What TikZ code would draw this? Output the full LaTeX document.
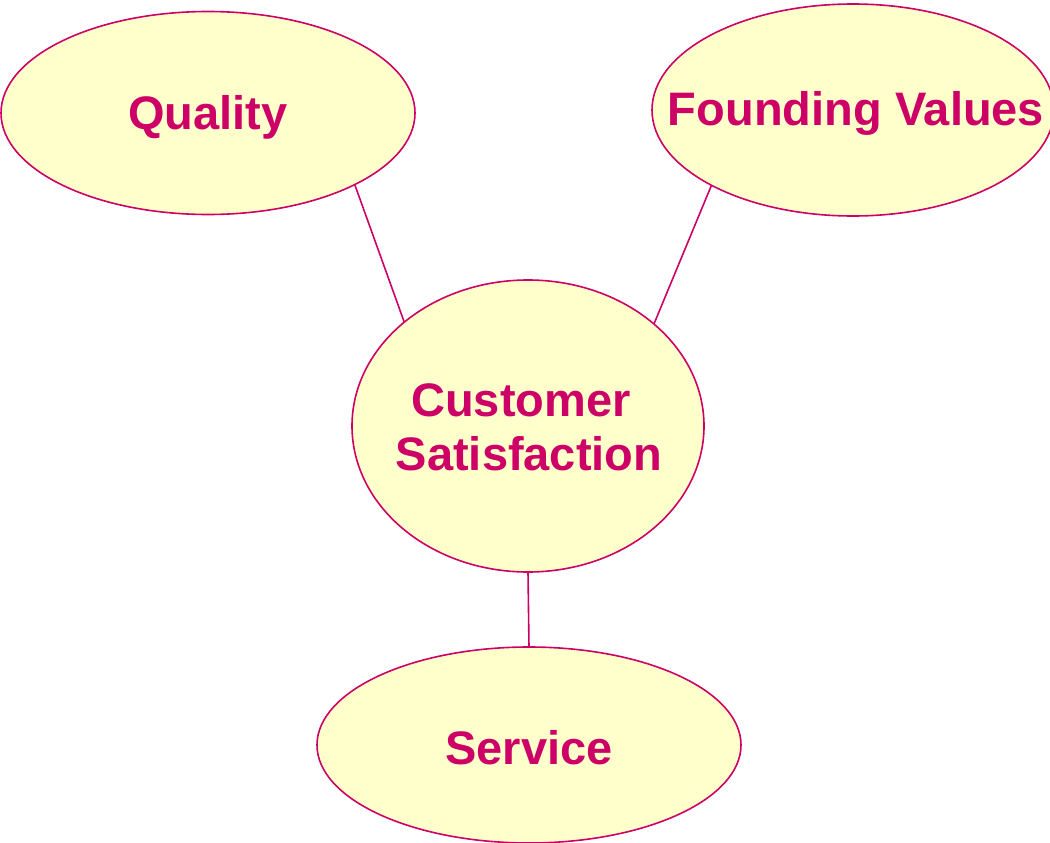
\documentclass[tikz,border=0pt]{standalone}
\usepackage{fontspec}
\setmainfont{Liberation Sans}
\usetikzlibrary{shapes.geometric}
\definecolor{fillY}{HTML}{FFFFCC}
\definecolor{mag}{HTML}{CC0066}
\begin{document}
\begin{tikzpicture}[x=1pt,y=-1pt,
  bubble/.style={ellipse, draw=mag, fill=fillY, line width=1.6pt, inner sep=0pt, outer sep=0pt},
  caption/.style={text=mag, font=\fontsize{47}{54}\selectfont\bfseries, align=center, inner sep=0pt},
  link/.style={draw=mag, line width=1.6pt}]
\useasboundingbox (0,0) rectangle (1050,843);
\node[bubble, minimum width=414pt, minimum height=203pt] (q) at (208,113) {};
\node[bubble, minimum width=402pt, minimum height=212pt] (f) at (853,110) {};
\node[bubble, minimum width=352pt, minimum height=292pt] (c) at (528,426) {};
\node[bubble, minimum width=424pt, minimum height=196pt] (s) at (529,745) {};
\node[caption] (qt) at (208,117) {Quality};
\node[caption] (ft) at (856,113) {Founding Values};
\node[caption] (ct) at (529,427) {Customer\hspace*{16pt}\\Satisfaction};
\node[caption] (st) at (529,748) {Service};
\draw[link] (q.-26.7) -- (c.140.2);
\draw[link] (f.208.3) -- (c.39.8);
\draw[link] (c.-90) -- (s.90);
\end{tikzpicture}
\end{document}
